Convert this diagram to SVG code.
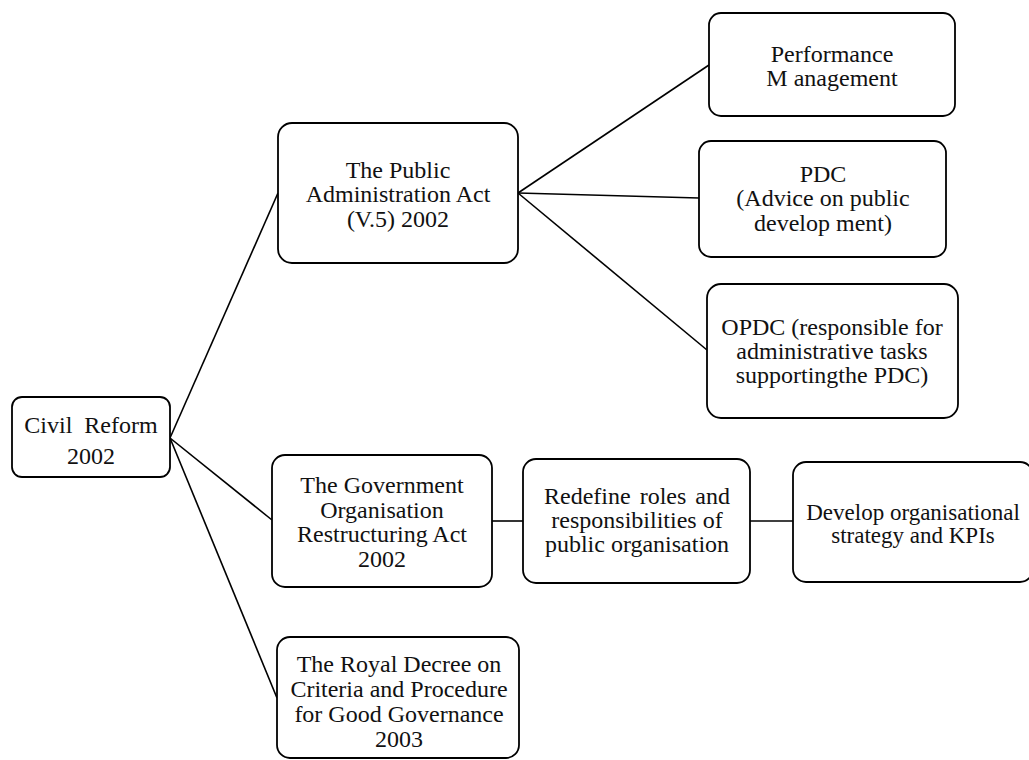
<svg xmlns="http://www.w3.org/2000/svg" width="1029" height="760" viewBox="0 0 1029 760">
  <style>
    .box { fill: #ffffff; stroke: #000000; stroke-width: 1.8; }
    .lbl { font-family: "Liberation Serif", "Times New Roman", serif; font-size: 24px; fill: #111111; text-anchor: middle; }
    .sm { font-size: 23px; }
    .link { stroke: #000000; stroke-width: 1.6; fill: none; }
  </style>
  <rect width="1029" height="760" fill="#ffffff"/>

  <!-- connectors -->
  <g id="connectors">
    <line class="link" x1="170" y1="438" x2="278" y2="193"/>
    <line class="link" x1="170" y1="438" x2="272" y2="520"/>
    <line class="link" x1="170" y1="438" x2="277" y2="698"/>
    <line class="link" x1="518" y1="193" x2="709" y2="65"/>
    <line class="link" x1="518" y1="193" x2="699" y2="198"/>
    <line class="link" x1="518" y1="193" x2="707" y2="350"/>
    <line class="link" x1="492" y1="521" x2="523" y2="521"/>
    <line class="link" x1="750" y1="521" x2="793" y2="521"/>
  </g>

  <g id="civil-reform">
    <rect class="box" x="12" y="397" width="158" height="80" rx="10"/>
    <text class="lbl" x="91" y="433" word-spacing="6">Civil Reform</text>
    <text class="lbl" x="91" y="464">2002</text>
  </g>

  <g id="public-admin-act">
    <rect class="box" x="278" y="123" width="240" height="140" rx="14"/>
    <text class="lbl" x="398" y="178">The Public</text>
    <text class="lbl" x="398" y="202">Administration Act</text>
    <text class="lbl" x="398" y="227">(V.5) 2002</text>
  </g>

  <g id="performance-management">
    <rect class="box" x="709" y="13" width="246" height="103" rx="12"/>
    <text class="lbl" x="832" y="62">Performance</text>
    <text class="lbl" x="832" y="86">M anagement</text>
  </g>

  <g id="pdc">
    <rect class="box" x="699" y="141" width="247" height="116" rx="12"/>
    <text class="lbl" x="823" y="182">PDC</text>
    <text class="lbl" x="823" y="206">(Advice on public</text>
    <text class="lbl" x="823" y="231">develop ment)</text>
  </g>

  <g id="opdc">
    <rect class="box" x="707" y="284" width="251" height="134" rx="14"/>
    <text class="lbl" x="832" y="335">OPDC (responsible for</text>
    <text class="lbl" x="832" y="359">administrative tasks</text>
    <text class="lbl" x="832" y="383">supportingthe PDC)</text>
  </g>

  <g id="gov-restructuring-act">
    <rect class="box" x="272" y="455" width="220" height="132" rx="13"/>
    <text class="lbl" x="382" y="493">The Government</text>
    <text class="lbl" x="382" y="518">Organisation</text>
    <text class="lbl" x="382" y="542">Restructuring Act</text>
    <text class="lbl" x="382" y="567">2002</text>
  </g>

  <g id="redefine-roles">
    <rect class="box" x="523" y="459" width="227" height="124" rx="13"/>
    <text class="lbl" x="637" y="504" word-spacing="3">Redefine roles and</text>
    <text class="lbl" x="637" y="528">responsibilities of</text>
    <text class="lbl" x="637" y="552">public organisation</text>
  </g>

  <g id="develop-strategy">
    <rect class="box" x="793" y="462" width="240" height="120" rx="13"/>
    <text class="lbl sm" x="913" y="520">Develop organisational</text>
    <text class="lbl sm" x="913" y="543">strategy and KPIs</text>
  </g>

  <g id="royal-decree">
    <rect class="box" x="277" y="637" width="242" height="121" rx="13"/>
    <text class="lbl" x="399" y="672">The Royal Decree on</text>
    <text class="lbl" x="399" y="697">Criteria and Procedure</text>
    <text class="lbl" x="399" y="722">for Good Governance</text>
    <text class="lbl" x="399" y="747">2003</text>
  </g>
</svg>
